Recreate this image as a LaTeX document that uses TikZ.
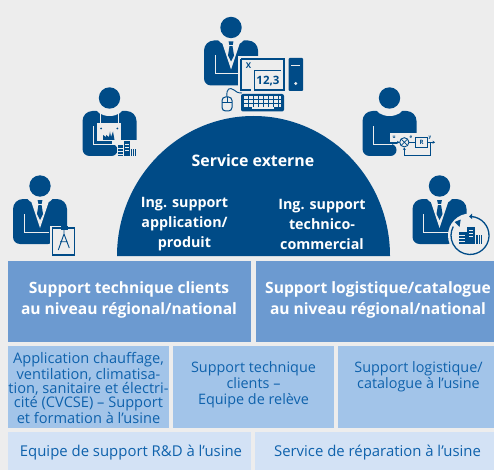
\documentclass[tikz,border=0pt]{standalone}
\usepackage{fontspec}
\usetikzlibrary{arrows.meta}
\setmainfont{Open Sans}
\definecolor{bgc}{HTML}{EDEDED}
\definecolor{navy}{HTML}{004B87}
\definecolor{rowa}{HTML}{6C9AD0}
\definecolor{rowb}{HTML}{A2C4E9}
\definecolor{rowc}{HTML}{D3E2F5}
\definecolor{txtb}{HTML}{0F62AC}
\tikzset{
 px/.style={x=1pt,y=-1pt},
 boxa/.style={fill=rowa,inner sep=0pt,anchor=center},
 boxb/.style={fill=rowb,inner sep=0pt,anchor=center},
 boxc/.style={fill=rowc,inner sep=0pt,anchor=center},
 texta/.style={text=white,font=\fontsize{15.6}{21}\selectfont\bfseries,align=center,inner sep=0pt},
 textb/.style={text=txtb,font=\fontsize{14.4}{16}\selectfont,align=center,inner sep=0pt},
 textc/.style={text=txtb,font=\fontsize{14.9}{16}\selectfont,align=center,inner sep=0pt},
 dometext/.style={text=white,font=\fontsize{14.3}{20}\selectfont\bfseries,align=center,inner sep=0pt},
 cut/.style={draw=bgc,line width=1pt},
 tinylabel/.style={text=navy,font=\fontsize{4.5}{4.5}\selectfont\bfseries,inner sep=0pt},
 ctrl/.style={navy,line width=.9pt},
 ctrlarrow/.style={navy,line width=.9pt,-{Stealth[length=2.5pt,width=3pt]}},
 pics/torso/.style={code={
  \fill[navy] (-27,23) arc (180:270:10) -- (17,13) arc (270:360:10) -- (27,46) -- (#1,46)
     arc (-90:90:6) -- (-20,58) arc (90:180:7) -- cycle;
  \fill[bgc] (0,9) ellipse (14 and 9);
  \fill[navy] (0,0) circle (10.7);
  \draw[cut] (-16,28) -- (-16,46.5) -- (#1+1,46.5);
 }},
 suit/.pic={
  \fill[bgc] (-10,12) -- (10,12) -- (0,42) -- cycle;
  \fill[navy] (-2.4,14) -- (2.4,14) -- (1.5,18.5) -- (3,28) -- (0,34) -- (-3,28) -- (-1.5,18.5) -- cycle;
  \draw[bgc,line width=.5pt] (-2.4,18) -- (2.4,18);
 }
}
\begin{document}
\begin{tikzpicture}[px]
\useasboundingbox (0,0) rectangle (494,470);
\fill[bgc] (0,0) rectangle (494,470);

% dome
\fill[navy] (117,256) arc[start angle=180,end angle=360,x radius=136.5,y radius=140] -- cycle;
\node[dometext,font=\fontsize{15.9}{20}\selectfont\bfseries] (ext) at (253,161) {Service externe};
\node[dometext] (app) at (184.5,224) {Ing. support\\application/\\produit};
\node[dometext] (tech) at (322,224) {Ing. support\\technico-\\commercial};

% row 1
\node[boxa,minimum width=243pt,minimum height=81pt] (r1a) at (129.5,301.5) {};
\node[boxa,minimum width=238pt,minimum height=81pt] (r1b) at (375,301.5) {};
\node[texta] (t1a) at (129,300) {Support technique clients\\au niveau régional/national};
\node[texta] (t1b) at (378,300) {Support logistique/catalogue\\au niveau régional/national};
% row 2
\node[boxb,minimum width=161pt,minimum height=82pt] (r2a) at (88.5,387) {};
\node[boxb,minimum width=161pt,minimum height=82pt] (r2b) at (253.5,387) {};
\node[boxb,minimum width=156pt,minimum height=82pt] (r2c) at (416,387) {};
\node[textb,font=\fontsize{14.6}{14.4}\selectfont] (t2a) at (88.5,388) {Application chauffage,\\ventilation, climatisa-\\tion, sanitaire et électri-\\cité (CVCSE) -- Support\\et formation à l’usine};
\node[textb] (t2b) at (253.5,385) {Support technique\\clients --\\Equipe de relève};
\node[textb] (t2c) at (418.5,377) {Support logistique/\\catalogue à l’usine};
% row 3
\node[boxc,minimum width=243pt,minimum height=38pt] (r3a) at (129.5,451) {};
\node[boxc,minimum width=239pt,minimum height=38pt] (r3b) at (374.5,451) {};
\node[textc] (t3a) at (131,452.5) {Equipe de support R\&D à l’usine};
\node[textc] (t3b) at (377.5,452.5) {Service de réparation à l’usine};

% top person
\pic at (231,27.5) {torso=8};
\pic at (231,27.5) {suit};
\begin{scope}[shift={(180,0)}]
 \fill[bgc] (58,56.5) rectangle (106,93);
 \draw[navy,line width=1.3pt] (61,59) -- (104,59) -- (104,90) -- (74,90);
 \draw[navy,line width=1pt] (74,71) -- (101,71);
 \draw[navy,line width=1pt] (74,71) -- (74,90);
 \draw[navy,line width=1.3pt] (61,59) -- (61,90) -- (71,90);
 \node[text=navy,font=\fontsize{8}{8}\selectfont\bfseries,inner sep=0pt] (xl) at (68.5,65.5) {X};
 \node[text=navy,font=\fontsize{11.5}{11}\selectfont\bfseries,inner sep=0pt] (val) at (88,81) {12,3};
 \fill[navy,rounded corners=1pt] (108.5,58) rectangle (123,91);
 \draw[bgc,line width=.7pt] (111,65.5) -- (120,65.5);
 \fill[bgc] (115.8,83.5) circle (1.6);
 % keyboard
 \fill[navy,rounded corners=2pt] (61,94) rectangle (104,111.5);
 \foreach \yy in {97,101,105}{\draw[bgc,line width=2.4pt,dash pattern=on 4pt off 1pt] (64,\yy+.5) -- (101,\yy+.5);}
 \draw[bgc,line width=2.2pt] (72,108.3) -- (94,108.3);
 % mouse
 \draw[navy,line width=1pt,rounded corners=3.5pt] (42,97) rectangle (52,111);
 \draw[navy,line width=.9pt] (42,102) -- (52,102) (47,97) -- (47,102);
 \draw[navy,line width=.9pt] (47,97) .. controls (46,88) and (50,87) .. (54,90) .. controls (56,92) and (58,93) .. (62,93);
\end{scope}

% left upper worker
\pic at (109.5,98) {torso=2};
\begin{scope}[shift={(109.5,98)}]
 \fill[bgc] (-10,13) rectangle (-9,26);
 \fill[bgc] (8,13) rectangle (9,26);
 \fill[bgc] (-12.5,25.3) rectangle (11.5,43);
 \fill[bgc] (2,43) rectangle (28,47);
 \fill[navy] (-6.5,42) -- (-6.5,37) -- (-3.5,39) -- (-3.5,37) -- (-.5,39) -- (.5,33.5) -- (1.5,39) -- (3.5,33.5) -- (5,42) -- cycle;
 \fill[navy] (-8.5,30.5) circle (1) (7.8,30.5) circle (1);
\end{scope}
% plant beside worker
\begin{scope}[shift={(117,141)}]
 \fill[bgc] (-.5,-1) rectangle (20,16.5);
 \fill[navy] (.7,4) rectangle (6,15.5);
 \fill[navy] (6.5,0) rectangle (13,15.5);
 \fill[navy] (14,8) rectangle (19,15.5);
 \draw[bgc,line width=.5pt] (.7,7) -- (6,7) (.7,10) -- (6,10) (.7,13) -- (6,13) (8,3) -- (11.5,3) (8,6) -- (11.5,6) (8,9) -- (11.5,9) (15.7,8) -- (15.7,15.5) (17.4,8) -- (17.4,15.5);
\end{scope}

% left lower engineer
\pic at (40,186) {torso=8};
\pic at (40,186) {suit};
\begin{scope}[shift={(40,186)}]
 \fill[bgc] (10,39.5) rectangle (36.5,71);
 \fill[navy] (11.5,41) rectangle (35,69.7);
 \fill[bgc] (13,42.7) rectangle (33.5,68);
 \fill[navy] (21,40) rectangle (28,44);
 \draw[navy,line width=.9pt] (24,44) -- (24,49) (24,48) -- (18.3,64) (24,48) -- (29.3,62) (20,55.7) -- (27.5,55.7);
\end{scope}

% right upper (controller)
\pic at (389.5,98) {torso=1};
\begin{scope}[shift={(340,80)}]
 \fill[bgc] (50,53) rectangle (97,62);
 \fill[bgc] (57,62) rectangle (97,78);
 \draw[ctrl] (64.3,62.3) circle (4.6);
 \draw[navy,line width=.7pt] (61,59) -- (67.6,65.6) (67.6,59) -- (61,65.6);
 \draw[navy,line width=1pt] (75.7,57.7) rectangle (87.3,67.3);
 \node[tinylabel,font=\fontsize{6}{6}\selectfont\bfseries] (rbox) at (81.5,62.5) {R};
 \draw[ctrlarrow] (52,62.3) -- (59.5,62.3);
 \draw[ctrl] (69,62.3) -- (75.7,62.3);
 \draw[ctrlarrow] (87.3,62.3) -- (95,62.3);
 \draw[ctrlarrow] (90,62.3) -- (90,75.7) -- (64.3,75.7) -- (64.3,67.5);
 \node[tinylabel] (uu) at (54,57.5) {u};
 \node[tinylabel] (ee) at (71,57.5) {e};
 \node[tinylabel] (yy) at (90,57.5) {y};
\end{scope}

% right lower
\pic at (439.5,186) {torso=8};
\pic at (439.5,186) {suit};
\begin{scope}[shift={(470,235.5)}]
 \fill[bgc] (0,0) circle (22);
 \draw[navy,line width=1.3pt] (1,-19) arc (-87:208:19);
 \fill[navy] (-1,-19) -- (2,-22) -- (2,-16.5) -- cycle;
 \fill[navy] (-9.3,-16) -- (-15.5,-13.5) -- (-10.5,-8.5) -- cycle;
 \fill[navy] (-11,-3.5) rectangle (-3.5,8);
 \fill[navy] (-3,-8.5) rectangle (5,8);
 \fill[navy] (6,-1) rectangle (12,8);
 \draw[bgc,line width=.5pt] (-11,-.5) -- (-5,-.5) (-11,2.5) -- (-5,2.5) (-11,5.5) -- (-5,5.5) (-1,-5) -- (3,-5) (-1,-2) -- (3,-2) (-1,1) -- (3,1) (8,-1) -- (8,8) (10,-1) -- (10,8);
\end{scope}
\end{tikzpicture}
\end{document}
